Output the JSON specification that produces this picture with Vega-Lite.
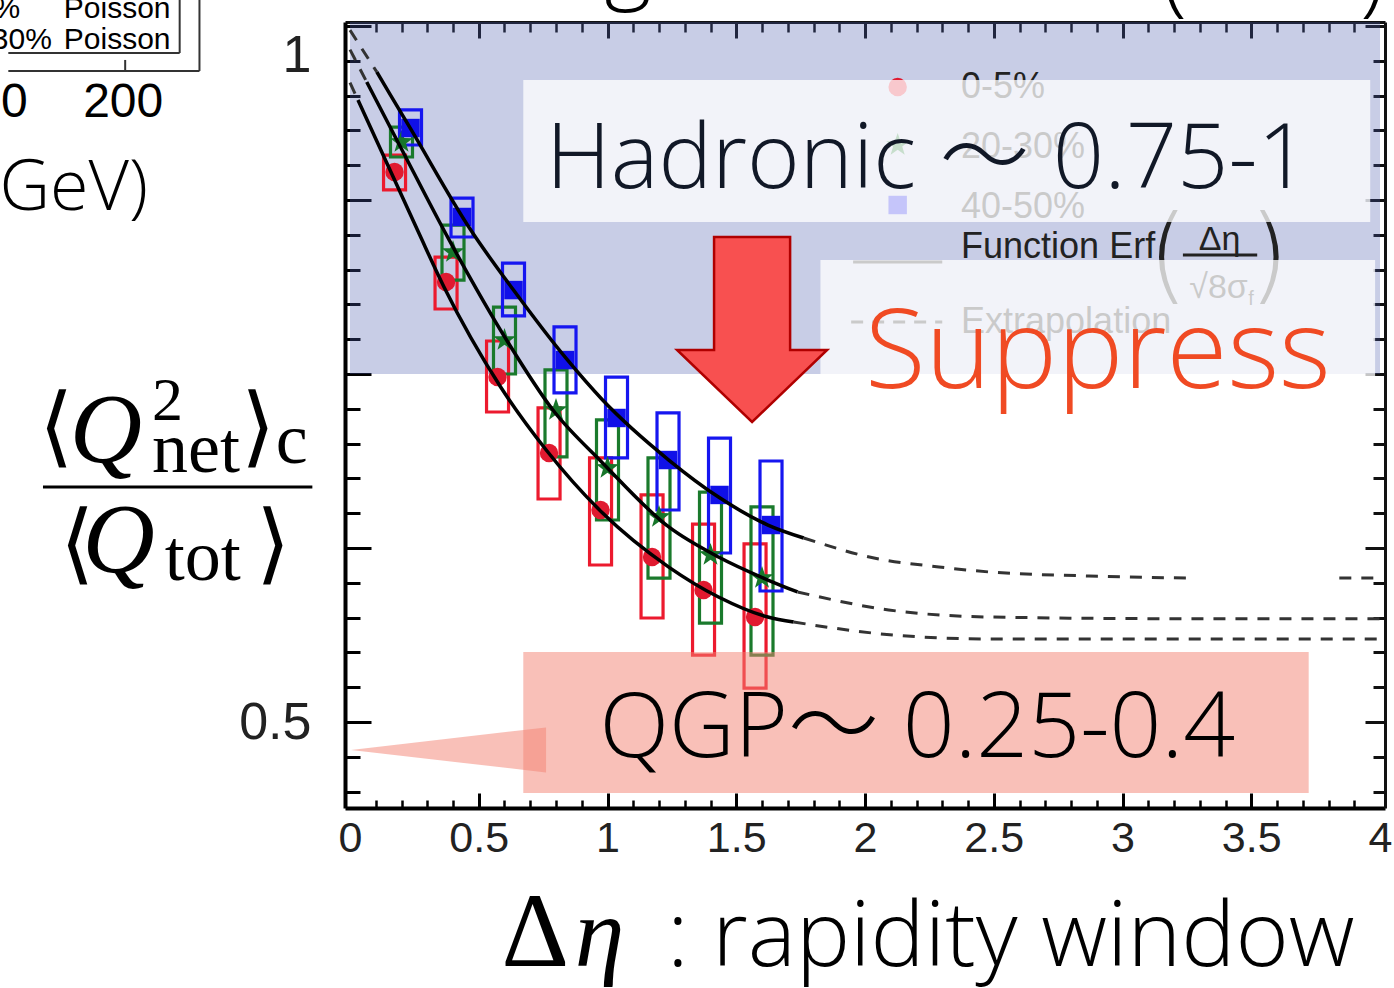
{
"$schema": "https://vega.github.io/schema/vega-lite/v6.json",
"width": 1040, "height": 786,
"autosize": {"type": "none"},
"padding": {"left": 345, "top": 22, "right": 9, "bottom": 180},
"background": "white",
"config": {"view": {"stroke": null}},
"datasets": {
 "band": [{"x": 0, "x2": 4, "v": 0.75, "v2": 1.00287}],
 "pts": [
  {"cent": "0-5%", "x": 0.173, "v": 0.8951, "lo": 0.8822, "hi": 0.9073},
  {"cent": "0-5%", "x": 0.373, "v": 0.8161, "lo": 0.7967, "hi": 0.834},
  {"cent": "0-5%", "x": 0.573, "v": 0.7478, "lo": 0.7227, "hi": 0.7737},
  {"cent": "0-5%", "x": 0.773, "v": 0.6932, "lo": 0.6602, "hi": 0.7256},
  {"cent": "0-5%", "x": 0.973, "v": 0.6523, "lo": 0.6128, "hi": 0.6897},
  {"cent": "0-5%", "x": 1.173, "v": 0.6185, "lo": 0.5747, "hi": 0.6631},
  {"cent": "0-5%", "x": 1.373, "v": 0.5948, "lo": 0.5481, "hi": 0.6422},
  {"cent": "0-5%", "x": 1.573, "v": 0.5754, "lo": 0.5244, "hi": 0.6279},
  {"cent": "20-30%", "x": 0.2, "v": 0.9167, "lo": 0.9059, "hi": 0.9274},
  {"cent": "20-30%", "x": 0.4, "v": 0.8376, "lo": 0.8175, "hi": 0.857},
  {"cent": "20-30%", "x": 0.6, "v": 0.7744, "lo": 0.75, "hi": 0.7981},
  {"cent": "20-30%", "x": 0.8, "v": 0.7241, "lo": 0.6904, "hi": 0.7529},
  {"cent": "20-30%", "x": 1.0, "v": 0.6825, "lo": 0.6451, "hi": 0.717},
  {"cent": "20-30%", "x": 1.2, "v": 0.6473, "lo": 0.6034, "hi": 0.6897},
  {"cent": "20-30%", "x": 1.4, "v": 0.62, "lo": 0.5711, "hi": 0.6652},
  {"cent": "20-30%", "x": 1.6, "v": 0.6034, "lo": 0.5481, "hi": 0.6545},
  {"cent": "40-50%", "x": 0.235, "v": 0.9267, "lo": 0.9145, "hi": 0.9397},
  {"cent": "40-50%", "x": 0.435, "v": 0.8628, "lo": 0.8484, "hi": 0.8764},
  {"cent": "40-50%", "x": 0.635, "v": 0.8103, "lo": 0.7917, "hi": 0.8297},
  {"cent": "40-50%", "x": 0.835, "v": 0.76, "lo": 0.7364, "hi": 0.7838},
  {"cent": "40-50%", "x": 1.035, "v": 0.7184, "lo": 0.6897, "hi": 0.7478},
  {"cent": "40-50%", "x": 1.235, "v": 0.6882, "lo": 0.6523, "hi": 0.722},
  {"cent": "40-50%", "x": 1.435, "v": 0.6631, "lo": 0.6214, "hi": 0.704},
  {"cent": "40-50%", "x": 1.635, "v": 0.6415, "lo": 0.5941, "hi": 0.6875}
 ],
 "fits": [
  {"cent": "0-5%", "piece": "r0", "kind": "extrapolation", "x": 0, "v": 0.9593},
  {"cent": "0-5%", "piece": "r0", "kind": "extrapolation", "x": 0.031, "v": 0.9468},
  {"cent": "0-5%", "piece": "r1", "kind": "fit", "x": 0.031, "v": 0.9468},
  {"cent": "0-5%", "piece": "r1", "kind": "fit", "x": 0.262, "v": 0.8534},
  {"cent": "0-5%", "piece": "r1", "kind": "fit", "x": 0.365, "v": 0.8125},
  {"cent": "0-5%", "piece": "r1", "kind": "fit", "x": 0.585, "v": 0.7407},
  {"cent": "0-5%", "piece": "r1", "kind": "fit", "x": 0.762, "v": 0.6954},
  {"cent": "0-5%", "piece": "r1", "kind": "fit", "x": 0.981, "v": 0.6501},
  {"cent": "0-5%", "piece": "r1", "kind": "fit", "x": 1.238, "v": 0.6113},
  {"cent": "0-5%", "piece": "r1", "kind": "fit", "x": 1.431, "v": 0.5898},
  {"cent": "0-5%", "piece": "r1", "kind": "fit", "x": 1.623, "v": 0.5754},
  {"cent": "0-5%", "piece": "r1", "kind": "fit", "x": 1.723, "v": 0.5718},
  {"cent": "0-5%", "piece": "r2", "kind": "extrapolation", "x": 1.723, "v": 0.5718},
  {"cent": "0-5%", "piece": "r2", "kind": "extrapolation", "x": 2.108, "v": 0.5625},
  {"cent": "0-5%", "piece": "r2", "kind": "extrapolation", "x": 2.488, "v": 0.5596},
  {"cent": "0-5%", "piece": "r2", "kind": "extrapolation", "x": 4, "v": 0.5596},
  {"cent": "20-30%", "piece": "g0", "kind": "extrapolation", "x": 0, "v": 0.983},
  {"cent": "20-30%", "piece": "g0", "kind": "extrapolation", "x": 0.065, "v": 0.9598},
  {"cent": "20-30%", "piece": "g1", "kind": "fit", "x": 0.065, "v": 0.9598},
  {"cent": "20-30%", "piece": "g1", "kind": "fit", "x": 0.196, "v": 0.9131},
  {"cent": "20-30%", "piece": "g1", "kind": "fit", "x": 0.385, "v": 0.8463},
  {"cent": "20-30%", "piece": "g1", "kind": "fit", "x": 0.608, "v": 0.7744},
  {"cent": "20-30%", "piece": "g1", "kind": "fit", "x": 0.788, "v": 0.7241},
  {"cent": "20-30%", "piece": "g1", "kind": "fit", "x": 0.981, "v": 0.6861},
  {"cent": "20-30%", "piece": "g1", "kind": "fit", "x": 1.238, "v": 0.6401},
  {"cent": "20-30%", "piece": "g1", "kind": "fit", "x": 1.431, "v": 0.6185},
  {"cent": "20-30%", "piece": "g1", "kind": "fit", "x": 1.623, "v": 0.602},
  {"cent": "20-30%", "piece": "g1", "kind": "fit", "x": 1.738, "v": 0.5934},
  {"cent": "20-30%", "piece": "g2", "kind": "extrapolation", "x": 1.738, "v": 0.5934},
  {"cent": "20-30%", "piece": "g2", "kind": "extrapolation", "x": 2.092, "v": 0.5805},
  {"cent": "20-30%", "piece": "g2", "kind": "extrapolation", "x": 2.488, "v": 0.5754},
  {"cent": "20-30%", "piece": "g2", "kind": "extrapolation", "x": 3.231, "v": 0.5742},
  {"cent": "20-30%", "piece": "g2", "kind": "extrapolation", "x": 4, "v": 0.5742},
  {"cent": "40-50%", "piece": "b0", "kind": "extrapolation", "x": 0, "v": 0.997},
  {"cent": "40-50%", "piece": "b0", "kind": "extrapolation", "x": 0.104, "v": 0.967},
  {"cent": "40-50%", "piece": "b1", "kind": "fit", "x": 0.104, "v": 0.967},
  {"cent": "40-50%", "piece": "b1", "kind": "fit", "x": 0.238, "v": 0.9253},
  {"cent": "40-50%", "piece": "b1", "kind": "fit", "x": 0.469, "v": 0.8534},
  {"cent": "40-50%", "piece": "b1", "kind": "fit", "x": 0.635, "v": 0.8103},
  {"cent": "40-50%", "piece": "b1", "kind": "fit", "x": 0.838, "v": 0.7615},
  {"cent": "40-50%", "piece": "b1", "kind": "fit", "x": 0.981, "v": 0.7313},
  {"cent": "40-50%", "piece": "b1", "kind": "fit", "x": 1.238, "v": 0.6882},
  {"cent": "40-50%", "piece": "b1", "kind": "fit", "x": 1.431, "v": 0.6616},
  {"cent": "40-50%", "piece": "b1", "kind": "fit", "x": 1.623, "v": 0.6415},
  {"cent": "40-50%", "piece": "b1", "kind": "fit", "x": 1.762, "v": 0.6322},
  {"cent": "40-50%", "piece": "b2", "kind": "extrapolation", "x": 1.762, "v": 0.6322},
  {"cent": "40-50%", "piece": "b2", "kind": "extrapolation", "x": 1.823, "v": 0.6286},
  {"cent": "40-50%", "piece": "b2", "kind": "extrapolation", "x": 2.017, "v": 0.6185},
  {"cent": "40-50%", "piece": "b2", "kind": "extrapolation", "x": 2.287, "v": 0.6114},
  {"cent": "40-50%", "piece": "b2", "kind": "extrapolation", "x": 2.481, "v": 0.6078},
  {"cent": "40-50%", "piece": "b2", "kind": "extrapolation", "x": 2.869, "v": 0.6049},
  {"cent": "40-50%", "piece": "b2", "kind": "extrapolation", "x": 3.258, "v": 0.6034},
  {"cent": "40-50%", "piece": "b3", "kind": "extrapolation", "x": 3.842, "v": 0.6034},
  {"cent": "40-50%", "piece": "b3", "kind": "extrapolation", "x": 4, "v": 0.6034}
 ],
 "legendMarks": [
  {"cent": "0-5%", "x": 2.1269, "v": 0.9562},
  {"cent": "20-30%", "x": 2.1269, "v": 0.9145},
  {"cent": "40-50%", "x": 2.1269, "v": 0.8714}
 ],
 "legendText": [
  {"t": "0-5%", "x": 2.373, "v": 0.9483},
  {"t": "20-30%", "x": 2.373, "v": 0.9052},
  {"t": "40-50%", "x": 2.373, "v": 0.8621},
  {"t": "Function Erf", "x": 2.373, "v": 0.8333},
  {"t": "Extrapolation", "x": 2.373, "v": 0.7795}
 ],
 "legendLines": [
  {"kind": "fit", "x": 1.9538, "x2": 2.3, "v": 0.8305},
  {"kind": "extrapolation", "x": 1.9462, "x2": 2.3, "v": 0.7874}
 ],
 "legendFrac": [{"t": "Δη", "x": 3.3769, "v": 0.8391}, {"t": "√8σ", "x": 3.373, "v": 0.8046}],
 "legendFracSub": [{"t": "f", "x": 3.4885, "v": 0.7996}],
 "legendParen": [{"t": "(", "x": 3.1769, "v": 0.8103}, {"t": ")", "x": 3.5692, "v": 0.8103}],
 "legendBar": [{"x": 3.2346, "x2": 3.5231, "v": 0.8355}],
 "whiteBoxes": [
  {"x": 0.673, "x2": 3.962, "v": 0.8592, "v2": 0.9612},
  {"x": 1.827, "x2": 3.981, "v": 0.7471, "v2": 0.8319}
 ],
 "qgpBox": [{"x": 0.673, "x2": 3.723, "v": 0.449, "v2": 0.5503}],
 "qgpPointer": [{"x": 0.3827, "v": 0.4799}],
 "arrow": [{"x": 1.5615, "v": 0.782}],
 "hadronicText": [{"t": "Hadronic 〜 0.75-1", "x": 0.7615, "v": 0.8836}],
 "suppressText": [{"t": "Suppress", "x": 2.0, "v": 0.7399}],
 "qgpText": [{"t": "QGP〜 0.25-0.4", "x": 0.969, "v": 0.4749}],
 "xTitleDelta": [{"t": "Δ", "x": 0.5885, "v": 0.3247}],
 "xTitleEta": [{"t": "η", "x": 0.873, "v": 0.3247}],
 "xTitleRest": [{"t": ": rapidity window", "x": 1.2308, "v": 0.3247}],
 "yBrackets": [
  {"t": "⟨", "x": -1.1423, "v": 0.7101},
  {"t": "⟩", "x": -0.3558, "v": 0.7101},
  {"t": "⟨", "x": -1.0615, "v": 0.6254},
  {"t": "⟩", "x": -0.3, "v": 0.6254}
 ],
 "yQ": [{"t": "Q", "x": -1.0885, "v": 0.6868}, {"t": "Q", "x": -1.0385, "v": 0.6078}],
 "ySub": [
  {"t": "net", "x": -0.7692, "v": 0.6796},
  {"t": "c", "x": -0.2885, "v": 0.6861},
  {"t": "tot", "x": -0.7192, "v": 0.602}
 ],
 "ySup": [{"t": "2", "x": -0.7692, "v": 0.717}],
 "yBar": [{"x": -1.1923, "x2": -0.1462, "v": 0.6688}],
 "fragLines": [
  {"x": -0.6615, "x2": -0.6615, "v": 1.0187, "v2": 0.9806},
  {"x": -1.3269, "x2": -0.6615, "v": 0.9806, "v2": 0.9806},
  {"x": -0.5846, "x2": -0.5846, "v": 1.0187, "v2": 0.9677},
  {"x": -1.3269, "x2": -0.5846, "v": 0.9677, "v2": 0.9677},
  {"x": -0.8731, "x2": -0.8731, "v": 0.9756, "v2": 0.9677}
 ],
 "fragLegendRight": [{"t": "5%", "x": -1.2808, "v": 1.0058}, {"t": "30%", "x": -1.1577, "v": 0.9835}],
 "fragLegendLeft": [{"t": "Poisson", "x": -1.1115, "v": 1.0058}, {"t": "Poisson", "x": -1.1115, "v": 0.9835}],
 "fragTicks": [{"t": "0", "x": -1.3038, "v": 0.9346}, {"t": "200", "x": -0.8808, "v": 0.9346}],
 "fragGeV": [{"t": "GeV)", "x": -0.7846, "v": 0.8678}],
 "titleFrag": [{"t": "g", "x": 0.988, "v": 1.0244}, {"t": "(", "x": 3.154, "v": 1.0151}, {"t": ")", "x": 3.923, "v": 1.0151}]
},
"encoding": {
 "x": {"field": "x", "type": "quantitative", "scale": {"domain": [0, 4], "nice": false, "zero": false}, "axis": null},
 "y": {"field": "v", "type": "quantitative", "scale": {"domain": [0.43822, 1.00287], "nice": false, "zero": false}, "axis": null}
},
"resolve": {"axis": {"x": "independent", "y": "independent"}},
"layer": [
 {
  "data": {"name": "band"},
  "mark": {"type": "rect", "fill": "#4858ac", "fillOpacity": 0.3, "strokeWidth": 0},
  "encoding": {
   "x": {"field": "x", "type": "quantitative", "scale": {"domain": [0, 4], "nice": false, "zero": false},
    "axis": {"orient": "bottom", "values": [0, 0.5, 1, 1.5, 2, 2.5, 3, 3.5, 4], "format": "~g", "ticks": false, "grid": false, "domain": true, "domainColor": "black", "domainWidth": 4, "labelFont": "Liberation Sans", "labelFontSize": 43, "labelColor": "#222", "labelPadding": 9, "labelFlush": false, "labelOverlap": false, "title": null}},
   "x2": {"field": "x2"},
   "y": {"field": "v", "type": "quantitative", "scale": {"domain": [0.43822, 1.00287], "nice": false, "zero": false},
    "axis": {"orient": "left", "values": [0.5, 0.979], "labelExpr": "datum.value > 0.9 ? '1' : '0.5'", "ticks": false, "grid": false, "domain": true, "domainColor": "black", "domainWidth": 4, "labelFont": "Liberation Sans", "labelFontSize": 52, "labelColor": "#222", "labelPadding": 34, "labelOverlap": false, "labelFlush": false, "title": null}},
   "y2": {"field": "v2"}
  }
 },
 {
  "data": {"name": "legendMarks"},
  "mark": {"type": "point", "filled": true, "opacity": 1, "strokeWidth": 0, "size": 340},
  "encoding": {
   "fill": {"field": "cent", "type": "nominal", "scale": {"domain": ["0-5%", "20-30%", "40-50%"], "range": ["#e01a30", "#17762a", "#1010e8"]}, "legend": null},
   "shape": {"field": "cent", "type": "nominal", "scale": {"domain": ["0-5%", "20-30%", "40-50%"], "range": ["circle", "M 0 -1.3 L 0.306 -0.421 L 1.236 -0.402 L 0.494 0.161 L 0.764 1.052 L 0 0.52 L -0.764 1.052 L -0.494 0.161 L -1.236 -0.402 L -0.306 -0.421 Z", "square"]}, "legend": null}
  }
 },
 {
  "data": {"name": "legendText"},
  "mark": {"type": "text", "font": "Liberation Sans", "fontSize": 36, "color": "#222", "align": "left", "baseline": "alphabetic"},
  "encoding": {"text": {"field": "t"}}
 },
 {
  "data": {"name": "legendLines"},
  "transform": [{"filter": "datum.kind == 'fit'"}],
  "mark": {"type": "rule", "color": "#222", "strokeWidth": 3},
  "encoding": {"x2": {"field": "x2"}}
 },
 {
  "data": {"name": "legendLines"},
  "transform": [{"filter": "datum.kind == 'extrapolation'"}],
  "mark": {"type": "rule", "color": "#222", "strokeWidth": 3, "strokeDash": [12, 9]},
  "encoding": {"x2": {"field": "x2"}}
 },
 {
  "data": {"name": "legendFrac"},
  "mark": {"type": "text", "font": "Liberation Sans", "fontSize": 34, "color": "#222", "align": "center", "baseline": "alphabetic"},
  "encoding": {"text": {"field": "t"}}
 },
 {
  "data": {"name": "legendFracSub"},
  "mark": {"type": "text", "font": "Liberation Sans", "fontSize": 20, "color": "#222", "align": "left", "baseline": "alphabetic"},
  "encoding": {"text": {"field": "t"}}
 },
 {
  "data": {"name": "legendParen"},
  "mark": {"type": "text", "font": "DejaVu Sans", "fontWeight": 200, "fontSize": 105, "color": "#222", "align": "center", "baseline": "alphabetic"},
  "encoding": {"text": {"field": "t"}}
 },
 {
  "data": {"name": "legendBar"},
  "mark": {"type": "rule", "color": "#222", "strokeWidth": 3},
  "encoding": {"x2": {"field": "x2"}}
 },
 {
  "data": {"name": "pts"},
  "mark": {"type": "bar", "orient": "vertical", "size": 22, "fillOpacity": 0, "strokeWidth": 3.2},
  "encoding": {
   "x": {"field": "x", "type": "quantitative", "scale": {"domain": [0, 4], "nice": false, "zero": false},
    "axis": {"orient": "bottom", "values": [0.5, 1, 1.5, 2, 2.5, 3, 3.5], "labels": false, "domain": false, "grid": false, "ticks": true, "tickSize": -15, "tickWidth": 3, "tickColor": "black", "title": null}},
   "y": {"field": "lo", "type": "quantitative", "scale": {"domain": [0.43822, 1.00287], "nice": false, "zero": false},
    "axis": {"orient": "left", "values": [0.5, 0.625, 0.75, 0.875, 1], "labels": false, "domain": false, "grid": false, "ticks": true, "tickSize": -26, "tickWidth": 3, "tickColor": "black", "title": null}},
   "y2": {"field": "hi"},
   "stroke": {"field": "cent", "type": "nominal", "scale": {"domain": ["0-5%", "20-30%", "40-50%"], "range": ["#ec1a2e", "#1a7a2c", "#1616f0"]}, "legend": null}
  }
 },
 {
  "data": {"name": "pts"},
  "mark": {"type": "point", "filled": true, "opacity": 1, "strokeWidth": 0, "size": 340},
  "encoding": {
   "x": {"field": "x", "type": "quantitative", "scale": {"domain": [0, 4], "nice": false, "zero": false},
    "axis": {"orient": "bottom", "values": [0.1, 0.2, 0.3, 0.4, 0.6, 0.7, 0.8, 0.9, 1.1, 1.2, 1.3, 1.4, 1.6, 1.7, 1.8, 1.9, 2.1, 2.2, 2.3, 2.4, 2.6, 2.7, 2.8, 2.9, 3.1, 3.2, 3.3, 3.4, 3.6, 3.7, 3.8, 3.9], "labels": false, "domain": false, "grid": false, "ticks": true, "tickSize": -8, "tickWidth": 2.5, "tickColor": "black", "title": null}},
   "y": {"field": "v", "type": "quantitative", "scale": {"domain": [0.43822, 1.00287], "nice": false, "zero": false},
    "axis": {"orient": "left", "values": [0.45, 0.475, 0.525, 0.55, 0.575, 0.6, 0.65, 0.675, 0.7, 0.725, 0.775, 0.8, 0.825, 0.85, 0.9, 0.925, 0.95, 0.975], "labels": false, "domain": false, "grid": false, "ticks": true, "tickSize": -15, "tickWidth": 3, "tickColor": "black", "title": null}},
   "fill": {"field": "cent", "type": "nominal", "scale": {"domain": ["0-5%", "20-30%", "40-50%"], "range": ["#e01a30", "#17762a", "#1010e8"]}, "legend": null},
   "shape": {"field": "cent", "type": "nominal", "scale": {"domain": ["0-5%", "20-30%", "40-50%"], "range": ["circle", "M 0 -1.3 L 0.306 -0.421 L 1.236 -0.402 L 0.494 0.161 L 0.764 1.052 L 0 0.52 L -0.764 1.052 L -0.494 0.161 L -1.236 -0.402 L -0.306 -0.421 Z", "square"]}, "legend": null}
  }
 },
 {
  "data": {"name": "fits"},
  "transform": [{"filter": "datum.kind == 'fit'"}],
  "mark": {"type": "line", "stroke": "black", "strokeWidth": 3.5, "interpolate": "monotone"},
  "encoding": {
   "x": {"field": "x", "type": "quantitative", "scale": {"domain": [0, 4], "nice": false, "zero": false},
    "axis": {"orient": "top", "values": [0.5, 1, 1.5, 2, 2.5, 3, 3.5], "labels": false, "domain": true, "domainColor": "#111", "domainWidth": 3, "grid": false, "ticks": true, "tickSize": -16, "tickWidth": 3, "tickColor": "#111", "title": null}},
   "y": {"field": "v", "type": "quantitative", "scale": {"domain": [0.43822, 1.00287], "nice": false, "zero": false},
    "axis": {"orient": "right", "values": [0.5, 0.625, 0.75, 0.875, 1], "labels": false, "domain": true, "domainColor": "#111", "domainWidth": 3, "grid": false, "ticks": true, "tickSize": -20, "tickWidth": 3, "tickColor": "#111", "title": null}},
   "detail": {"field": "piece"}
  }
 },
 {
  "data": {"name": "fits"},
  "transform": [{"filter": "datum.kind == 'extrapolation'"}],
  "mark": {"type": "line", "stroke": "#333", "strokeWidth": 3, "strokeDash": [12, 10], "interpolate": "monotone"},
  "encoding": {
   "x": {"field": "x", "type": "quantitative", "scale": {"domain": [0, 4], "nice": false, "zero": false},
    "axis": {"orient": "top", "values": [0.1, 0.2, 0.3, 0.4, 0.6, 0.7, 0.8, 0.9, 1.1, 1.2, 1.3, 1.4, 1.6, 1.7, 1.8, 1.9, 2.1, 2.2, 2.3, 2.4, 2.6, 2.7, 2.8, 2.9, 3.1, 3.2, 3.3, 3.4, 3.6, 3.7, 3.8, 3.9], "labels": false, "domain": false, "grid": false, "ticks": true, "tickSize": -10, "tickWidth": 2.5, "tickColor": "#111", "title": null}},
   "y": {"field": "v", "type": "quantitative", "scale": {"domain": [0.43822, 1.00287], "nice": false, "zero": false},
    "axis": {"orient": "right", "values": [0.45, 0.475, 0.525, 0.55, 0.575, 0.6, 0.65, 0.675, 0.7, 0.725, 0.775, 0.8, 0.825, 0.85, 0.9, 0.925, 0.95, 0.975], "labels": false, "domain": false, "grid": false, "ticks": true, "tickSize": -12, "tickWidth": 3, "tickColor": "#111", "title": null}},
   "detail": {"field": "piece"}
  }
 },
 {
  "data": {"name": "whiteBoxes"},
  "mark": {"type": "rect", "fill": "white", "fillOpacity": 0.76, "strokeWidth": 0},
  "encoding": {"x2": {"field": "x2"}, "y2": {"field": "v2"}}
 },
 {
  "data": {"name": "qgpBox"},
  "mark": {"type": "rect", "fill": "#f38171", "fillOpacity": 0.5, "strokeWidth": 0},
  "encoding": {"x2": {"field": "x2"}, "y2": {"field": "v2"}}
 },
 {
  "data": {"name": "qgpPointer"},
  "mark": {"type": "point", "shape": "M -1 0 L 1 -0.231 L 1 0.231 Z", "size": 38025, "filled": true, "fill": "#f38171", "opacity": 0.5, "strokeWidth": 0}
 },
 {
  "data": {"name": "arrow"},
  "mark": {"type": "point", "shape": "M -0.411 -1 L 0.411 -1 L 0.411 0.222 L 0.811 0.222 L 0 1 L -0.811 0.222 L -0.411 0.222 Z", "size": 34225, "filled": true, "fill": "#f85050", "stroke": "#b00000", "strokeWidth": 2.5, "opacity": 1}
 },
 {
  "data": {"name": "hadronicText"},
  "mark": {"type": "text", "font": "Open Sans, Noto Sans CJK JP", "fontWeight": 300, "fontSize": 90, "color": "#111827", "align": "left", "baseline": "alphabetic"},
  "encoding": {"text": {"field": "t"}}
 },
 {
  "data": {"name": "suppressText"},
  "mark": {"type": "text", "font": "Open Sans", "fontWeight": 300, "fontSize": 111, "color": "#f04a23", "align": "left", "baseline": "alphabetic"},
  "encoding": {"text": {"field": "t"}}
 },
 {
  "data": {"name": "qgpText"},
  "mark": {"type": "text", "font": "Open Sans, Noto Sans CJK JP", "fontWeight": 300, "fontSize": 91, "color": "#000", "align": "left", "baseline": "alphabetic"},
  "encoding": {"text": {"field": "t"}}
 },
 {
  "data": {"name": "xTitleDelta"},
  "mark": {"type": "text", "font": "Liberation Serif", "fontSize": 105, "color": "#000", "align": "left", "baseline": "alphabetic"},
  "encoding": {"text": {"field": "t"}}
 },
 {
  "data": {"name": "xTitleEta"},
  "mark": {"type": "text", "font": "Liberation Serif", "fontStyle": "italic", "fontSize": 100, "color": "#000", "align": "left", "baseline": "alphabetic"},
  "encoding": {"text": {"field": "t"}}
 },
 {
  "data": {"name": "xTitleRest"},
  "mark": {"type": "text", "font": "Open Sans", "fontWeight": 300, "fontSize": 91, "color": "#000", "align": "left", "baseline": "alphabetic"},
  "encoding": {"text": {"field": "t"}}
 },
 {
  "data": {"name": "yBrackets"},
  "mark": {"type": "text", "font": "DejaVu Sans", "fontWeight": 200, "fontSize": 88, "color": "#000", "align": "center", "baseline": "middle"},
  "encoding": {"text": {"field": "t"}}
 },
 {
  "data": {"name": "yQ"},
  "mark": {"type": "text", "font": "Liberation Serif", "fontStyle": "italic", "fontSize": 100, "color": "#000", "align": "left", "baseline": "alphabetic"},
  "encoding": {"text": {"field": "t"}}
 },
 {
  "data": {"name": "ySub"},
  "mark": {"type": "text", "font": "Liberation Serif", "fontSize": 72, "color": "#000", "align": "left", "baseline": "alphabetic"},
  "encoding": {"text": {"field": "t"}}
 },
 {
  "data": {"name": "ySup"},
  "mark": {"type": "text", "font": "Liberation Serif", "fontSize": 62, "color": "#000", "align": "left", "baseline": "alphabetic"},
  "encoding": {"text": {"field": "t"}}
 },
 {
  "data": {"name": "yBar"},
  "mark": {"type": "rule", "color": "#000", "strokeWidth": 3},
  "encoding": {"x2": {"field": "x2"}}
 },
 {
  "data": {"name": "fragLines"},
  "mark": {"type": "rule", "color": "#333", "strokeWidth": 2},
  "encoding": {"x2": {"field": "x2"}, "y2": {"field": "v2"}}
 },
 {
  "data": {"name": "fragLegendRight"},
  "mark": {"type": "text", "font": "Liberation Sans", "fontSize": 30, "color": "#000", "align": "right", "baseline": "alphabetic"},
  "encoding": {"text": {"field": "t"}}
 },
 {
  "data": {"name": "fragLegendLeft"},
  "mark": {"type": "text", "font": "Liberation Sans", "fontSize": 30, "color": "#000", "align": "left", "baseline": "alphabetic"},
  "encoding": {"text": {"field": "t"}}
 },
 {
  "data": {"name": "fragTicks"},
  "mark": {"type": "text", "font": "Liberation Sans", "fontSize": 48, "color": "#000", "align": "center", "baseline": "alphabetic"},
  "encoding": {"text": {"field": "t"}}
 },
 {
  "data": {"name": "fragGeV"},
  "mark": {"type": "text", "font": "Open Sans", "fontWeight": 300, "fontSize": 70, "color": "#000", "align": "right", "baseline": "alphabetic"},
  "encoding": {"text": {"field": "t"}}
 },
 {
  "data": {"name": "titleFrag"},
  "mark": {"type": "text", "font": "Open Sans", "fontWeight": 300, "fontSize": 90, "color": "#000", "align": "left", "baseline": "alphabetic"},
  "encoding": {"text": {"field": "t"}}
 }
]
}
